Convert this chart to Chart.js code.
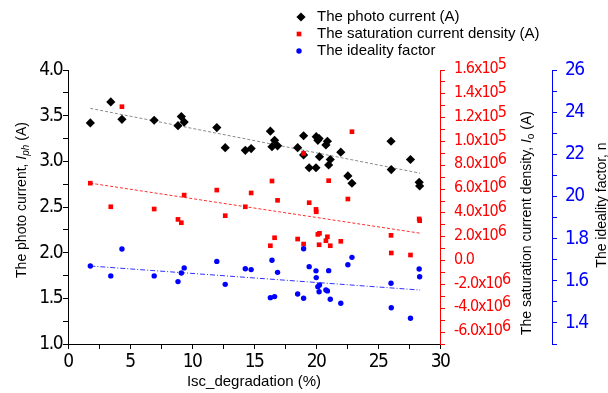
<!DOCTYPE html>
<html>
<head>
<meta charset="utf-8">
<script src="https://cdn.jsdelivr.net/npm/chart.js@4.4.1/dist/chart.umd.min.js"></script>
<style>
  html, body { margin: 0; padding: 0; background: #fff; }
</style>
</head>
<body>
<canvas id="degChart" width="608" height="393"></canvas>
<script>
// Isc degradation (%) of each sample, with the three fitted parameters
const degradation = [1.8, 3.45, 4.35, 6.95, 8.87, 9.14, 9.37, 12.0, 12.68, 14.3, 14.77, 16.32,
  16.45, 16.66, 16.9, 18.52, 19.0, 19.0, 19.45, 20.0, 20.02, 20.15, 20.28, 20.25, 20.8, 20.92,
  21.02, 21.15, 22.0, 22.57, 22.9, 26.05, 26.07, 27.62, 28.32, 28.36]
const photoCurrent = [3.42, 3.65, 3.46, 3.45, 3.39, 3.49, 3.43, 3.37, 3.15, 3.12, 3.14, 3.33,
  3.16, 3.23, 3.17, 3.15, 3.28, 3.07, 2.93, 2.93, 3.27, 3.23, 3.05, 3.25, 3.18, 3.22,
  2.96, 3.02, 3.10, 2.84, 2.76, 3.22, 2.91, 3.02, 2.77, 2.73]
const satCurrent = [6.5e-6, 4.52e-6, 12.92e-6, 4.33e-6, 3.46e-6, 3.18e-6, 5.5e-6, 5.92e-6, 3.77e-6,
  4.52e-6, 5.68e-6, 1.25e-6, 6.68e-6, 1.92e-6, 5.06e-6, 1.81e-6, 9.0e-6, 1.39e-6, 4.86e-6, 4.3e-6,
  4.1e-6, 2.2e-6, 2.29e-6, 1.33e-6, 1.67e-6, 2.0e-6, 6.71e-6, 1.25e-6, 1.62e-6, 5.17e-6, 10.82e-6,
  2.12e-6, 0.64e-6, 0.47e-6, 3.5e-6, 3.35e-6]
const idealityFactor = [1.670, 1.623, 1.751, 1.623, 1.596, 1.637, 1.661, 1.692, 1.583, 1.657, 1.653, 1.520,
  1.697, 1.525, 1.640, 1.537, 1.752, 1.517, 1.667, 1.647, 1.615, 1.572, 1.580, 1.548, 1.556, 1.552,
  1.648, 1.512, 1.493, 1.676, 1.711, 1.588, 1.472, 1.422, 1.656, 1.619]

// linear fits, start and end
const fitX = [1.8, 28.4]
const photoFit = [3.58, 2.87]
const satFit = [6.5e-6, 2.3e-6]
const idealFit = [1.67, 1.556]

// tick labels
const xTickValues = [0, 5, 10, 15, 20, 25, 30]
const xTickLabels = ['0', '5', '10', '15', '20', '25', '30']
const photoTickValues = [1.0, 1.5, 2.0, 2.5, 3.0, 3.5, 4.0]
const photoTickLabels = ['1.0', '1.5', '2.0', '2.5', '3.0', '3.5', '4.0']
const satTickValues = [-6e-6, -4e-6, -2e-6, 0, 2e-6, 4e-6, 6e-6, 8e-6, 1.0e-5, 1.2e-5, 1.4e-5, 1.6e-5]
const satTickLabels = ['-6.0x10', '-4.0x10', '-2.0x10', '0.0', '2.0x10', '4.0x10', '6.0x10',
  '8.0x10', '1.0x10', '1.2x10', '1.4x10', '1.6x10']
const satTickExps = ['6', '6', '6', '', '6', '6', '6', '6', '5', '5', '5', '5']
const idealTickValues = [1.4, 1.6, 1.8, 2.0, 2.2, 2.4, 2.6]
const idealTickLabels = ['1.4', '1.6', '1.8', '20', '22', '24', '26']

const tickFamily = "'DejaVu Sans Condensed', 'DejaVu Sans', sans-serif"
const tickFont = { family: tickFamily, size: 19 }
const textFamily = "'Liberation Sans', Arial, sans-serif"

function labelFor (values, labels, eps) {
  return function (v) {
    const i = values.findIndex(t => Math.abs(t - v) < eps)
    return i < 0 ? '' : labels[i]
  }
}

function pts (ys) {
  return degradation.map((x, i) => ({ x: x, y: ys[i] }))
}
function fitPts (ys) {
  return fitX.map((x, i) => ({ x: x, y: ys[i] }))
}

// draws a run of text pieces (for italic / subscript parts), centred on cx, cy
function drawRuns (ctx, runs, cx, cy, rotate) {
  ctx.save()
  ctx.letterSpacing = '0px'
  ctx.translate(cx, cy)
  if (rotate) ctx.rotate(-Math.PI / 2)
  ctx.textBaseline = 'middle'
  ctx.textAlign = 'left'
  ctx.fillStyle = '#000'
  let total = 0
  runs.forEach(r => { ctx.font = r.font; r.w = ctx.measureText(r.text).width; total += r.w })
  let x = -total / 2
  runs.forEach(r => { ctx.font = r.font; ctx.fillText(r.text, x, r.dy || 0); x += r.w })
  ctx.restore()
}

// tick numbers are drawn tightly spaced
const tightTicks = {
  id: 'tightTicks',
  beforeUpdate (chart) { chart.ctx.letterSpacing = '-1.5px' },
  beforeDraw (chart) { chart.ctx.letterSpacing = '-1.5px' }
}

const titlesAndLegend = {
  id: 'titlesAndLegend',
  afterDraw (chart) {
    const ctx = chart.ctx
    const f = '14px ' + textFamily
    const fi = 'italic 14px ' + textFamily
    const fs = '10px ' + textFamily

    // saturation current labels: mantissa with a raised exponent
    const sat = chart.scales.ySat
    ctx.save()
    ctx.letterSpacing = '-1px'
    ctx.fillStyle = '#ff0000'
    ctx.textBaseline = 'middle'
    ctx.textAlign = 'left'
    ctx.font = '16px ' + tickFamily
    satTickValues.forEach((v, i) => {
      const y = sat.getPixelForValue(v) - 1
      const x0 = sat.left + 14
      ctx.fillText(satTickLabels[i], x0, y)
      const w = ctx.measureText(satTickLabels[i]).width
      ctx.fillText(satTickExps[i], x0 + w, y - 4)
    })
    ctx.restore()

    drawRuns(ctx, [
      { text: 'The photo current, ', font: f },
      { text: 'I', font: fi },
      { text: 'ph', font: 'italic 10px ' + textFamily, dy: 4 },
      { text: ' (A)', font: f }
    ], 22, 200, true)
    drawRuns(ctx, [
      { text: 'The saturation current density, ', font: f },
      { text: 'I', font: fi },
      { text: 'o', font: fs, dy: 4 },
      { text: ' (A)', font: f }
    ], 527, 223, true)
    drawRuns(ctx, [{ text: 'The ideality factor, n', font: f }], 602, 205, true)
    drawRuns(ctx, [{ text: 'Isc_degradation (%)', font: '15px ' + textFamily }], 254, 382, false)

    // legend for the three scatter series
    const rows = [[0, 301, 17], [1, 299, 34], [2, 299, 51]]
    rows.forEach(([di, mx, my]) => {
      const ds = chart.data.datasets[di]
      ctx.save()
      ctx.letterSpacing = '0px'
      ctx.fillStyle = ds.backgroundColor
      Chart.helpers.drawPoint(ctx, { pointStyle: ds.pointStyle, radius: ds.pointRadius, rotation: 0, borderWidth: 0 }, mx, my)
      ctx.fillStyle = '#000'
      ctx.font = '15px ' + textFamily
      ctx.textBaseline = 'middle'
      ctx.fillText(ds.label, 317, my)
      ctx.restore()
    })
  }
}

const ctx = document.getElementById('degChart').getContext('2d')
const degChart = new Chart(ctx, {
  type: 'scatter',
  data: {
    datasets: [{
      label: 'The photo current (A)',
      data: pts(photoCurrent),
      yAxisID: 'y',
      pointStyle: 'rectRot',
      pointRadius: 4.6,
      pointBorderWidth: 0,
      backgroundColor: '#000',
      order: 3
    }, {
      label: 'The saturation current density (A)',
      data: pts(satCurrent),
      yAxisID: 'ySat',
      pointStyle: 'rect',
      pointRadius: 3.3,
      pointBorderWidth: 0,
      backgroundColor: '#ff0000',
      order: 2
    }, {
      label: 'The ideality factor',
      data: pts(idealityFactor),
      yAxisID: 'yIdeal',
      pointStyle: 'circle',
      pointRadius: 2.7,
      pointBorderWidth: 0,
      backgroundColor: '#0000ff',
      order: 1
    }, {
      type: 'line',
      data: fitPts(photoFit),
      yAxisID: 'y',
      borderColor: '#8a8a8a',
      borderWidth: 1,
      borderDash: [3, 2],
      pointRadius: 0,
      order: 4
    }, {
      type: 'line',
      data: fitPts(satFit),
      yAxisID: 'ySat',
      borderColor: '#ff3030',
      borderWidth: 1,
      borderDash: [3, 2],
      pointRadius: 0,
      order: 4
    }, {
      type: 'line',
      data: fitPts(idealFit),
      yAxisID: 'yIdeal',
      borderColor: '#3030ff',
      borderWidth: 1,
      borderDash: [5, 2, 1, 2],
      pointRadius: 0,
      order: 4
    }]
  },
  options: {
    responsive: false,
    animation: false,
    devicePixelRatio: 1,
    events: [],
    layout: { padding: { top: 70, left: 0, right: 0, bottom: 0 } },
    plugins: { legend: { display: false }, tooltip: { enabled: false } },
    scales: {
      x: {
        type: 'linear',
        min: 0,
        max: 30,
        ticks: { stepSize: 2.5, autoSkip: false, maxRotation: 0, padding: 2, color: '#000', font: tickFont,
          callback: labelFor(xTickValues, xTickLabels, 1e-6) },
        grid: { drawOnChartArea: false, tickLength: 5, tickColor: '#000' },
        border: { color: '#000', width: 1 },
        afterFit: s => { s.height = 49 }
      },
      y: {
        position: 'left',
        min: 1,
        max: 4,
        ticks: { stepSize: 0.25, autoSkip: false, padding: 1, color: '#000', font: tickFont,
          callback: labelFor(photoTickValues, photoTickLabels, 1e-6) },
        grid: { drawOnChartArea: false, tickLength: 5, tickColor: '#000' },
        border: { color: '#000', width: 1 },
        afterFit: s => { s.width = 68 }
      },
      ySat: {
        position: 'right',
        min: -7e-6,
        max: 1.6e-5,
        // numbers for this axis are drawn by the titlesAndLegend plugin
        ticks: { stepSize: 1e-6, autoSkip: false, callback: () => '' },
        grid: { drawOnChartArea: false, tickLength: 5, tickColor: '#ff0000' },
        border: { color: '#ff0000', width: 1 },
        afterFit: s => { s.width = 112 }
      },
      yIdeal: {
        position: 'right',
        min: 1.3,
        max: 2.6,
        ticks: { stepSize: 0.1, autoSkip: false, padding: 8, color: '#0000ff', font: tickFont,
          callback: labelFor(idealTickValues, idealTickLabels, 1e-6) },
        grid: { drawOnChartArea: false, tickLength: 5, tickColor: '#0000ff' },
        border: { color: '#0000ff', width: 1 },
        afterFit: s => { s.width = 56 }
      }
    }
  },
  plugins: [tightTicks, titlesAndLegend]
})
</script>
</body>
</html>
